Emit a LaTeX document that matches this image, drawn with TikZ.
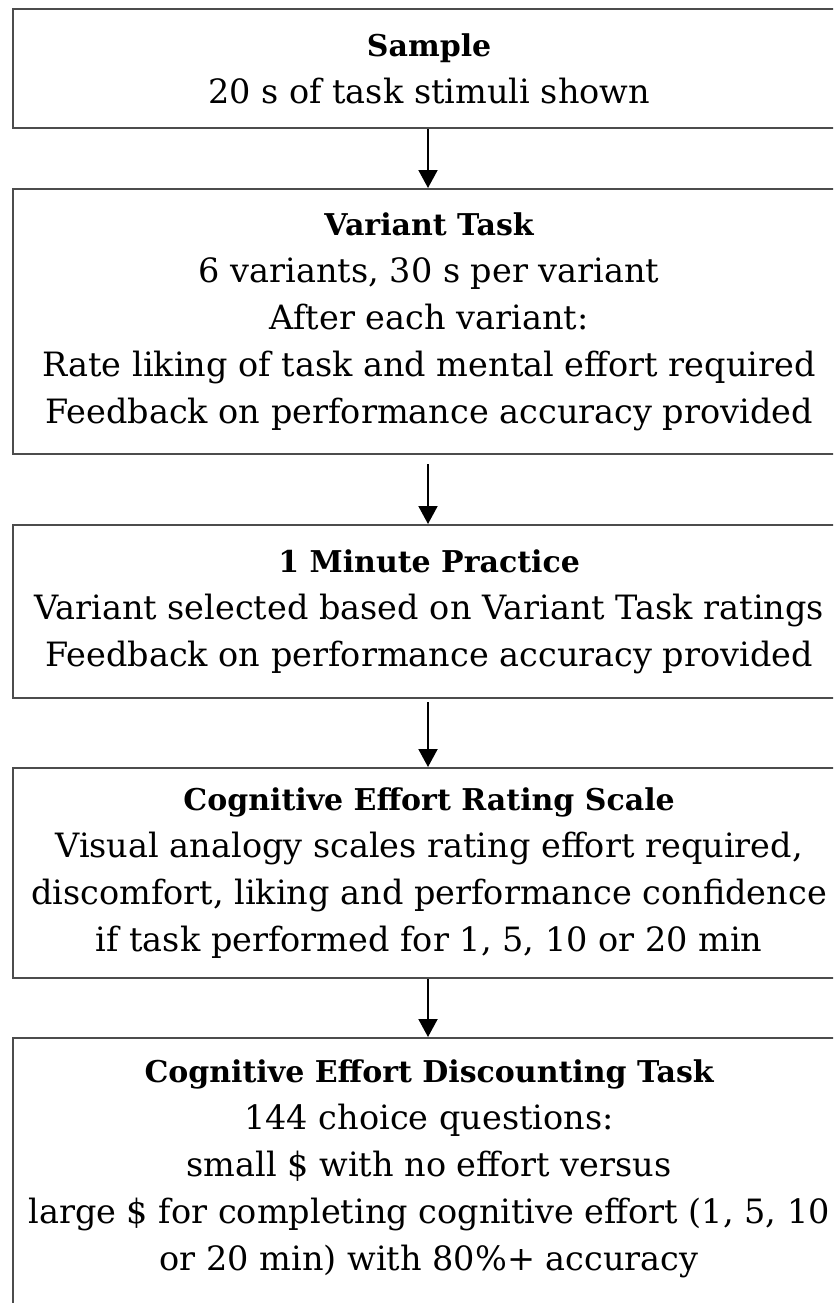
\documentclass[tikz,border=0pt]{standalone}
\usepackage{fontspec}
\setmainfont{DejaVu Serif}
\usetikzlibrary{arrows.meta}
\newcommand{\stagetitle}[1]{{\fontsize{30}{47}\selectfont\bfseries #1}}
\begin{document}
\begin{tikzpicture}[x=1pt,y=-1pt,
  stage/.style={draw=black!70, line width=2.2pt, minimum width=832pt, inner sep=0pt,
    align=center, font=\fontsize{33.5}{47}\selectfont, anchor=north west},
  flow/.style={-{Triangle[width=19pt,length=18pt]}, line width=2pt, black}]
\useasboundingbox (0,0) rectangle (833,1303);
\clip (0,0) rectangle (833,1303);
\node[stage, minimum height=119pt] (s1) at (12,8)
  {\stagetitle{Sample}\\20 s of task stimuli shown};
\node[stage, minimum height=265pt] (s2) at (12,188)
  {\stagetitle{Variant Task}\\6 variants, 30 s per variant\\After each variant:\\Rate liking of task and mental effort required\\Feedback on performance accuracy provided};
\node[stage, minimum height=173pt] (s3) at (12,524)
  {\stagetitle{1 Minute Practice}\\Variant selected based on Variant Task ratings\\Feedback on performance accuracy provided};
\node[stage, minimum height=210pt] (s4) at (12,767)
  {\stagetitle{Cognitive Effort Rating Scale}\\Visual analogy scales rating effort required,\\discomfort, liking and performance confidence\\if task performed for 1, 5, 10 or 20 min};
\node[stage, minimum height=300pt] (s5) at (12,1037)
  {\stagetitle{Cognitive Effort Discounting Task}\\144 choice questions:\\small \$ with no effort versus\\large \$ for completing cognitive effort (1, 5, 10\\or 20 min) with 80\%+ accuracy\\[0pt]};
\draw[flow] (s1.south -| 428,0) -- (s2.north -| 428,0);
\draw[flow, shorten <=9pt] (s2.south -| 428,0) -- (s3.north -| 428,0);
\draw[flow, shorten <=3pt] (s3.south -| 428,0) -- (s4.north -| 428,0);
\draw[flow] (s4.south -| 428,0) -- (s5.north -| 428,0);
\end{tikzpicture}
\end{document}
